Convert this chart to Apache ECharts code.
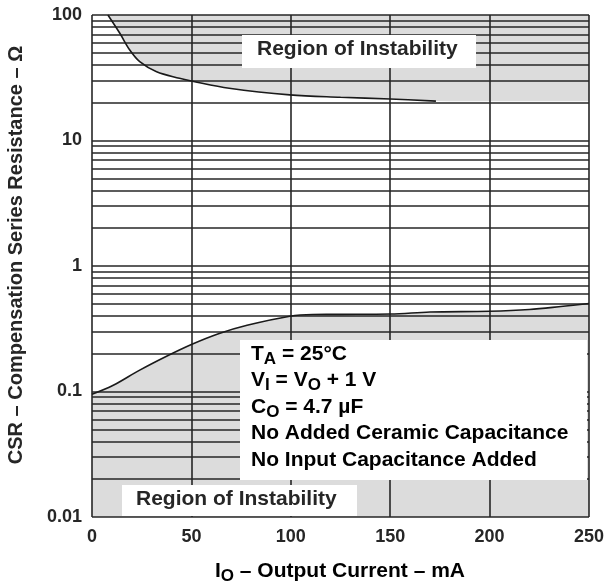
<!DOCTYPE html>
<html>
<head>
<meta charset="utf-8">
<script src="https://cdn.jsdelivr.net/npm/echarts@6/dist/echarts.min.js"></script>
<style>
  html, body { margin: 0; padding: 0; background: #fff; }
  #chart { width: 609px; height: 585px; }
</style>
</head>
<body>
<div id="chart"></div>
<script>
// Stability boundaries: CSR (ohm) versus output current (mA)
const upperCurrent = [8, 14, 19, 24, 32.5, 44, 50, 69, 99.5, 125, 150, 173, 200, 250];
const upperCsr     = [100, 71.5, 52.6, 42.5, 35.3, 31.3, 29.8, 26.1, 23.1, 22.1, 21.4, 20.6, 20.5, 20.5];
const upperLineEnd = 173; // the drawn boundary curve stops here, the shaded band continues

const lowerCurrent = [0, 10.7, 24, 37.5, 50, 64, 78, 99.5, 111, 125, 150, 170, 200, 220, 237, 250];
const lowerCsr     = [0.095, 0.112, 0.148, 0.191, 0.237, 0.290, 0.337, 0.398, 0.411, 0.412, 0.414, 0.430, 0.436, 0.450, 0.478, 0.502];

const currentTicks = [0, 50, 100, 150, 200, 250];
const csrDecades   = [0.01, 0.1, 1, 10, 100];
const csrTickLabels = ['0.01', '0.1', '1', '10', '100'];

const conditionLines = [
  '{n|T}{s|A}{n| = 25°C}',
  '{n|V}{s|I}{n| = V}{s|O}{n| + 1 V}',
  '{n|C}{s|O}{n| = 4.7 µF}',
  '{n|No Added Ceramic Capacitance}',
  '{n|No Input Capacitance Added}'
];
const regionLabel = 'Region of Instability';

const FONT = '"Liberation Sans", Arial, Helvetica, sans-serif';
const INK = '#262626';
const SHADE = '#dcdcdc';

const pairs = (xs, ys) => xs.map((x, i) => [x, ys[i]]);
const upperPts = pairs(upperCurrent, upperCsr);
const lowerPts = pairs(lowerCurrent, lowerCsr);

// log grid: 1..9 in every decade plus the top decade line
const hGrid = [];
csrDecades.slice(0, -1).forEach(d => { for (let k = 1; k <= 9; k++) hGrid.push(+(d * k).toPrecision(3)); });
hGrid.push(csrDecades[csrDecades.length - 1]);

const gridLines = [
  ...hGrid.map(v => ({ yAxis: v })),
  ...currentTicks.map(v => ({ xAxis: v }))
];

const richText = {
  n: { fontFamily: FONT, fontWeight: 'bold', fontSize: 21, color: INK, lineHeight: 26 },
  s: { fontFamily: FONT, fontWeight: 'bold', fontSize: 17, color: INK, lineHeight: 18, padding: [10, 0, 0, 0] }
};

const chart = echarts.init(document.getElementById('chart'), null, { renderer: 'canvas' });

const graphics = [
  // upper label box
  { type: 'rect', z: 50, shape: { x: 242, y: 35, width: 234, height: 33 }, style: { fill: '#fff' } },
  { type: 'text', z: 51, x: 257, y: 49, style: { text: regionLabel, font: 'bold 21px ' + FONT, fill: INK, verticalAlign: 'middle', align: 'left' } },
  // conditions box
  { type: 'rect', z: 50, shape: { x: 240, y: 340, width: 347, height: 140 }, style: { fill: '#fff' } },
  ...conditionLines.map((t, i) => ({
    type: 'text', z: 51, x: 251, y: 354 + i * 26.5,
    style: { text: t, rich: richText, verticalAlign: 'middle', align: 'left' }
  })),
  // lower label box
  { type: 'rect', z: 50, shape: { x: 122, y: 485, width: 235, height: 31 }, style: { fill: '#fff' } },
  { type: 'text', z: 51, x: 136, y: 499, style: { text: regionLabel, font: 'bold 21px ' + FONT, fill: INK, verticalAlign: 'middle', align: 'left' } },
  // axis titles
  { type: 'text', z: 51, x: 340, y: 571,
    style: { text: '{n|I}{s|O}{n| – Output Current – mA}', rich: richText, align: 'center', verticalAlign: 'middle' } },
  { type: 'text', z: 51, x: 16, y: 255, rotation: Math.PI / 2,
    style: { text: 'CSR – Compensation Series Resistance – Ω', font: 'bold 20px ' + FONT, fill: INK, align: 'center', verticalAlign: 'middle' } }
];

chart.setOption({
  animation: false,
  backgroundColor: '#fff',
  grid: { left: 92, right: 20, top: 15, bottom: 68 },
  xAxis: {
    type: 'value', min: 0, max: 250, interval: 50,
    axisLine: { show: false }, axisTick: { show: false }, splitLine: { show: false },
    axisLabel: { margin: 11, fontFamily: FONT, fontWeight: 'bold', fontSize: 18, color: INK,
      formatter: v => String(currentTicks.find(t => t === v) ?? '') }
  },
  yAxis: {
    type: 'log', logBase: 10, min: 0.01, max: 100,
    axisLine: { show: false }, axisTick: { show: false }, splitLine: { show: false },
    minorTick: { show: false }, minorSplitLine: { show: false },
    axisLabel: { margin: 10, fontFamily: FONT, fontWeight: 'bold', fontSize: 18, color: INK,
      formatter: v => {
        const i = csrDecades.findIndex(d => Math.abs(Math.log10(d) - Math.log10(v)) < 1e-6);
        return i >= 0 ? csrTickLabels[i] : '';
      } }
  },
  graphic: graphics,
  series: [
    { // unstable band above the upper boundary
      type: 'line', z: 2, data: upperPts, smooth: 0.35, showSymbol: false, silent: true,
      lineStyle: { width: 0, opacity: 0 }, areaStyle: { color: SHADE, opacity: 1, origin: 'end' }
    },
    { // unstable band below the lower boundary
      type: 'line', z: 2, data: lowerPts, smooth: 0.35, showSymbol: false, silent: true,
      lineStyle: { width: 0, opacity: 0 }, areaStyle: { color: SHADE, opacity: 1, origin: 'start' }
    },
    { // chart grid and frame drawn above the shading
      type: 'line', z: 3, data: [], silent: true,
      markLine: {
        silent: true, symbol: 'none', label: { show: false }, animation: false,
        lineStyle: { color: INK, width: 1.6, type: 'solid' },
        data: gridLines
      }
    },
    { // upper boundary curve
      type: 'line', z: 60, data: upperPts.filter(p => p[0] <= upperLineEnd), smooth: 0.35,
      showSymbol: false, silent: true, lineStyle: { color: '#1a1a1a', width: 1.6 }
    },
    { // lower boundary curve
      type: 'line', z: 60, data: lowerPts, smooth: 0.35,
      showSymbol: false, silent: true, lineStyle: { color: '#1a1a1a', width: 1.6 }
    }
  ]
});
</script>
</body>
</html>
